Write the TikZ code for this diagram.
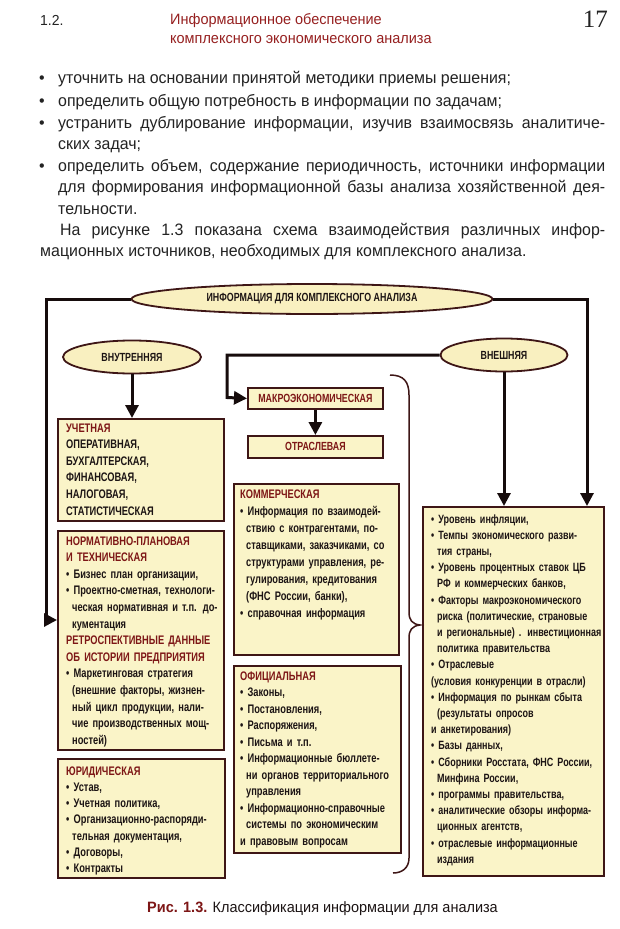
\documentclass[tikz,border=0pt]{standalone}
\usepackage{fontspec}
\setmainfont{Liberation Sans}
\newfontfamily\bodyfont{Liberation Sans}[FakeStretch=0.965]
\newfontfamily\boxfont{Liberation Sans}[FakeStretch=0.75]
\newfontfamily\numfont{Liberation Serif}
\usetikzlibrary{arrows.meta,shapes.geometric}
\definecolor{boxfill}{RGB}{250,244,200}
\definecolor{ellfill}{RGB}{249,240,192}
\definecolor{bord}{RGB}{62,22,22}
\definecolor{headc}{RGB}{125,22,22}
\definecolor{hdrred}{RGB}{150,32,32}
\definecolor{ink}{RGB}{28,20,20}
\definecolor{linec}{RGB}{22,12,12}
\definecolor{bodyc}{RGB}{35,35,35}
\newcommand\myhd[1]{\textcolor{headc}{#1}}
\newcommand\ind{\hspace*{6pt}}
\tikzset{
  bx/.style={draw=bord, line width=1.8pt, fill=boxfill, rectangle, inner sep=0pt, anchor=north west},
  ell/.style={draw=bord, line width=1.8pt, fill=ellfill, ellipse, inner sep=0pt, text=ink,
    font=\boxfont\bfseries\fontsize{11.8}{13}\selectfont},
  txt/.style={anchor=base west, inner sep=0pt, align=left, text width=200pt, text=ink,
    font=\boxfont\bfseries\fontsize{12.4}{16.6}\selectfont},
  arr/.style={line width=3pt, draw=linec, line join=miter, -{Triangle[length=13pt,width=13pt]}},
  bodyline/.style={anchor=base west, inner sep=0pt, text=bodyc, font=\bodyfont\fontsize{16.5}{18}\selectfont},
  bul/.style={anchor=base west, inner sep=0pt, text=bodyc, font=\bodyfont\fontsize{16.5}{18}\selectfont},
}
\begin{document}
\begin{tikzpicture}[x=1pt,y=-1pt]
\useasboundingbox[fill=white] (0,0) rectangle (620,929);

% header
\node[anchor=base west, inner sep=0pt, text=bodyc, font=\bodyfont\fontsize{14.5}{16}\selectfont] (sec) at (40,25) {1.2.};
\node[anchor=base west, inner sep=0pt, text=hdrred, font=\bodyfont\fontsize{15}{16}\selectfont] (h1) at (170,24) {Информационное обеспечение};
\node[anchor=base west, inner sep=0pt, text=hdrred, font=\bodyfont\fontsize{15}{16}\selectfont] (h2) at (170,43) {комплексного экономического анализа};
\node[anchor=base east, inner sep=0pt, text=bodyc, font=\numfont\fontsize{25}{28}\selectfont] (pg) at (608,27) {17};

% body
\node[bul] (bu1) at (39,83) {•};
\node[bodyline] (l1) at (58,83) {уточнить на основании принятой методики приемы решения;};
\node[bul] (bu2) at (39,106) {•};
\node[bodyline] (l2) at (58,106) {определить общую потребность в информации по задачам;};
\node[bul] (bu3) at (39,128) {•};
\node[bodyline] (l3) at (58,128) {\makebox[547pt][s]{устранить дублирование информации, изучив взаимосвязь аналитиче-}};
\node[bodyline] (l4) at (58,149) {ских задач;};
\node[bul] (bu4) at (39,171) {•};
\node[bodyline] (l5) at (58,171) {\makebox[547pt][s]{определить объем, содержание периодичность, источники информации}};
\node[bodyline] (l6) at (58,192) {\makebox[547pt][s]{для формирования информационной базы анализа хозяйственной дея-}};
\node[bodyline] (l7) at (58,214) {тельности.};
\node[bodyline] (l8) at (60,235) {\makebox[545pt][s]{На рисунке 1.3 показана схема взаимодействия различных инфор-}};
\node[bodyline] (l9) at (40,256) {мационных источников, необходимых для комплексного анализа.};

% ellipses
\node[ell, minimum width=361pt, minimum height=30pt] (top) at (312,299) {ИНФОРМАЦИЯ ДЛЯ КОМПЛЕКСНОГО АНАЛИЗА};
\node[ell, minimum width=138pt, minimum height=33pt] (inn) at (132,357) {ВНУТРЕННЯЯ};
\node[ell, minimum width=127pt, minimum height=33pt] (ext) at (504,355) {ВНЕШНЯЯ};

% boxes
\node[bx, minimum width=166pt, minimum height=102pt] (uch) at (57,418) {};
\node[bx, minimum width=166pt, minimum height=219pt] (norm) at (57,530) {};
\node[bx, minimum width=167pt, minimum height=119pt] (jur) at (57,758) {};
\node[bx, minimum width=135pt, minimum height=21pt,
  font=\boxfont\bfseries\fontsize{11.8}{13}\selectfont, text=headc] (macro) at (247,387) {МАКРОЭКОНОМИЧЕСКАЯ};
\node[bx, minimum width=135pt, minimum height=22pt,
  font=\boxfont\bfseries\fontsize{11.8}{13}\selectfont, text=headc] (otr) at (247,435) {ОТРАСЛЕВАЯ};
\node[bx, minimum width=165pt, minimum height=171pt] (komm) at (233,483) {};
\node[bx, minimum width=167pt, minimum height=187pt] (ofic) at (233,665) {};
\node[bx, minimum width=181pt, minimum height=369pt] (xbox) at (422,506) {};

% box texts
\node[txt] (tuch) at ([shift={(9,14)}]uch.north west) {\myhd{УЧЕТНАЯ}\\
ОПЕРАТИВНАЯ,\\
БУХГАЛТЕРСКАЯ,\\
ФИНАНСОВАЯ,\\
НАЛОГОВАЯ,\\
СТАТИСТИЧЕСКАЯ};

\node[txt] (tnorm) at ([shift={(9,15)}]norm.north west) {\myhd{НОРМАТИВНО-ПЛАНОВАЯ}\\
\myhd{И ТЕХНИЧЕСКАЯ}\\
• Бизнес план организации,\\
• Проектно-сметная, технологи-\\
\ind ческая нормативная и т.п. до-\\
\ind кументация\\
\myhd{РЕТРОСПЕКТИВНЫЕ ДАННЫЕ}\\
\myhd{ОБ ИСТОРИИ ПРЕДПРИЯТИЯ}\\
• Маркетинговая стратегия\\
\ind (внешние факторы, жизнен-\\
\ind ный цикл продукции, нали-\\
\ind чие производственных мощ-\\
\ind ностей)};

\node[txt, font=\boxfont\bfseries\fontsize{12.4}{16.3}\selectfont] (tjur) at ([shift={(9,17)}]jur.north west) {\myhd{ЮРИДИЧЕСКАЯ}\\
• Устав,\\
• Учетная политика,\\
• Организационно-распоряди-\\
\ind тельная документация,\\
• Договоры,\\
• Контракты};

\node[txt, font=\boxfont\bfseries\fontsize{12.4}{17}\selectfont] (tkomm) at ([shift={(7,15)}]komm.north west) {\myhd{КОММЕРЧЕСКАЯ}\\
• Информация по взаимодей-\\
\ind ствию с контрагентами, по-\\
\ind ставщиками, заказчиками, со\\
\ind структурами управления, ре-\\
\ind гулирования, кредитования\\
\ind (ФНС России, банки),\\
• справочная информация};

\node[txt, font=\boxfont\bfseries\fontsize{12.4}{16.5}\selectfont] (tofic) at ([shift={(7,15)}]ofic.north west) {\myhd{ОФИЦИАЛЬНАЯ}\\
• Законы,\\
• Постановления,\\
• Распоряжения,\\
• Письма и т.п.\\
• Информационные бюллете-\\
\ind ни органов территориального\\
\ind управления\\
• Информационно-справочные\\
\ind системы по экономическим\\
и правовым вопросам};

\node[txt, font=\boxfont\bfseries\fontsize{12}{16.2}\selectfont] (txbox) at ([shift={(9,17)}]xbox.north west) {• Уровень инфляции,\\
• Темпы экономического разви-\\
\ind тия страны,\\
• Уровень процентных ставок ЦБ\\
\ind РФ и коммерческих банков,\\
• Факторы макроэкономического\\
\ind риска (политические, страновые\\
\ind и региональные) . инвестиционная\\
\ind политика правительства\\
• Отраслевые\\
(условия конкуренции в отрасли)\\
• Информация по рынкам сбыта\\
\ind (результаты опросов\\
и анкетирования)\\
• Базы данных,\\
• Сборники Росстата, ФНС России,\\
\ind Минфина России,\\
• программы правительства,\\
• аналитические обзоры информа-\\
\ind ционных агентств,\\
• отраслевые информационные\\
\ind издания};

% connectors
\coordinate (L2) at (46,620);
\coordinate (R2) at (587,506);
\coordinate (M2) at (227,397.5);
\draw[arr] (top.west) -| (L2) -- (norm.west |- L2);
\draw[arr] (top.east) -| (R2);
\draw[arr] (inn.south) -- (inn.south |- uch.north);
\draw[arr] (ext.south) -- (ext.south |- xbox.north);
\draw[arr] (ext.west) -| (M2) -- (macro.west);
\draw[arr] (macro.south) -- (otr.north);

% brace
\draw[draw=bord, line width=1.5pt] (390,375) .. controls (404,375) and (409,382) .. (409,395)
  -- (409,612) .. controls (409,620) and (412,624) .. (420,625)
  .. controls (412,626) and (409,630) .. (409,638)
  -- (409,858) .. controls (409,868) and (402,873) .. (393,873);

% caption
\node[anchor=base west, inner sep=0pt, font=\bodyfont\fontsize{15}{17}\selectfont] (cap) at (147,912)
  {\textcolor{headc}{\bfseries Рис. 1.3.} \textcolor{ink}{Классификация информации для анализа}};
\end{tikzpicture}
\end{document}
